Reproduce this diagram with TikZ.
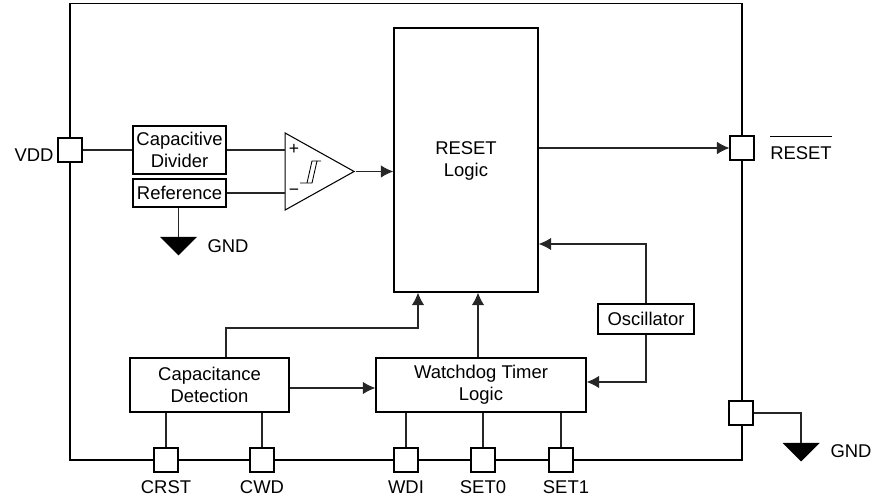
\documentclass[tikz,border=0pt]{standalone}
\usepackage{fontspec}
\setmainfont{Liberation Sans}
\usetikzlibrary{arrows.meta,calc,positioning,shapes.geometric}
\tikzset{
    every node/.style={font=\fontsize{10.5}{12.6}\selectfont},
    blockbox/.style={draw,line width=0.8pt,align=center,inner sep=0pt,fill=white},
    pinbox/.style={draw,line width=0.6pt,fill=white,minimum size=0.48cm,inner sep=0pt},
    signal/.style={line width=0.6pt,black!85},
    arrowline/.style={signal,-{Latex[length=2.5mm,width=2.5mm]}},
}

\begin{document}
\begin{tikzpicture}[x=0.02cm,y=-0.02cm]
    \useasboundingbox (0,0) rectangle (873,496);
    \draw[line width=0.85pt](70,3.5) rectangle (742,460);
    % pins on the frame
    \node[pinbox] (vdd) at (70,150) {};
    \node[pinbox] (rstpin) at (742,148) {};
    \node[pinbox] (gndpin) at (741,413) {};
    \foreach \n/\u in {crst/166,cwd/262,wdi/406,setzero/483,setone/561}{
        \node[pinbox] (\n) at (\u,460) {};}
    \node (vddlabel) at (34,155.5) {VDD};
    \node (rstlabel) at (801,147.5) {$\overline{\mbox{\rule{0pt}{4.15mm}RESET}}$};
    \node (crstlabel) at (166,487) {CRST};
    \node (cwdlabel) at (262,487) {CWD};
    \node (wdilabel) at (406,487) {WDI};
    \node (setzerolabel) at (483,487) {SET0};
    \node (setonelabel) at (566,487) {SET1};
    % blocks
    \node[blockbox,minimum width=1.86cm,minimum height=0.96cm] (capdiv) at (179.5,150) {Capacitive\\Divider};
    \node[blockbox,minimum width=1.86cm,minimum height=0.56cm] (reference) at (179.5,193) {Reference};
    \node[blockbox,minimum width=2.88cm,minimum height=5.28cm] (rstlogic) at (466,160) {};
    \node[align=center] (rsttext) at (466,161) {RESET\\Logic};
    \node[blockbox,minimum width=1.92cm,minimum height=0.6cm] (osc) at (646,319) {Oscillator};
    \node[blockbox,minimum width=3.18cm,minimum height=1.08cm] (capdet) at (209.5,385) {Capacitance\\Detection};
    \node[blockbox,minimum width=4.2cm,minimum height=1.08cm] (wdlogic) at (481,385) {Watchdog Timer\\Logic};
    \node[draw,line width=0.6pt,isosceles triangle,isosceles triangle stretches,
        minimum width=1.54cm,minimum height=1.38cm,inner sep=0pt,anchor=apex] (comp) at (355.5,171.5) {};
    \node[font=\fontsize{10}{10}\selectfont] (plus) at (294,149.5) {+};
    \node[font=\fontsize{10}{10}\selectfont] (minus) at (294,192.5) {−};
    \draw[line width=0.5pt](300,183)--(312,183)--(317,161)--(321,161);
    \draw[line width=0.5pt](307,183)--(312,161)--(317,161);
    % ground symbols
    \coordinate (gnda) at (178.5,237);
    \coordinate (gndb) at (801,443);
    \foreach \g in {gnda,gndb}{
        \fill (\g) ++(-18.5,0) -- ++(37,0) -- ++(-18.5,18.5) -- cycle;}
    \node (gndalabel) at (228,246.5) {GND};
    \node (gndblabel) at (851,451.5) {GND};
    % connectors
    \draw[signal](vdd)--(capdiv);
    \draw[signal](capdiv.east)--(285,150);
    \draw[signal](reference.east)--(285,193);
    \draw[signal](reference.south -| gnda)--(gnda);
    \draw[arrowline](comp.apex)--(comp.apex -| rstlogic.west);
    \draw[arrowline](rstlogic.east |- rstpin)--(rstpin);
    \draw[arrowline](osc.north)|-(rstlogic.east |- 0,244);
    \draw[arrowline](osc.south)|-(wdlogic.east |- 0,382);
    \draw[arrowline](capdet.north -| 226,0)|-(418,328)--(418,328 |- rstlogic.south);
    \draw[arrowline](wdlogic.north -| 478,0)--(478,0 |- rstlogic.south);
    \draw[arrowline](capdet.east |- 0,388)--(wdlogic.west |- 0,388);
    \foreach \n/\b in {crst/capdet,cwd/capdet,wdi/wdlogic,setzero/wdlogic,setone/wdlogic}{
        \draw[signal](\n.north)--(\n |- \b.south);}
    \draw[signal](gndpin)-|(gndb);
\end{tikzpicture}
\end{document}
